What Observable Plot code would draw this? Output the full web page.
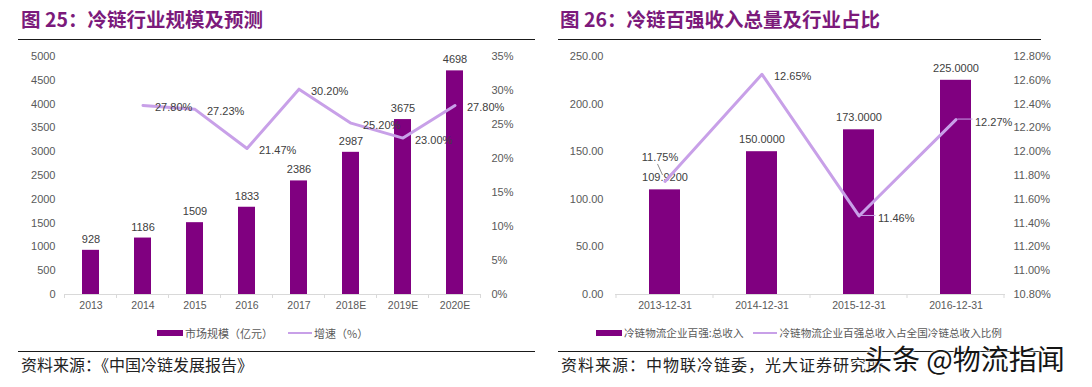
<!DOCTYPE html>
<html>
<head>
<meta charset="utf-8">
<script src="https://cdn.jsdelivr.net/npm/d3@7"></script>
<script src="https://cdn.jsdelivr.net/npm/@observablehq/plot@0.6"></script>
<style>
  html, body { margin: 0; padding: 0; background: #fff; }
  #root { position: relative; width: 1092px; height: 387px; overflow: hidden; background: #fff; }
  .title { position: absolute; top: 9px; font-family: "Noto Sans CJK SC", sans-serif; font-weight: 700; font-size: 19.5px; line-height: 20px; color: #7B1A7B; white-space: nowrap; }
  .hr { position: absolute; height: 0; border-top: 1.5px solid #1a1a1a; }
  .chart { position: absolute; top: 45px; }
  .legend { position: absolute; top: 325px; font-family: "Noto Sans CJK SC", sans-serif; font-size: 11px; line-height: 16px; color: #595959; white-space: nowrap; display: flex; align-items: center; }
  .sw-bar { display: inline-block; width: 26px; height: 6px; background: #800080; margin-right: 2px; }
  .sw-line { display: inline-block; width: 24px; height: 2px; background: #C8A0E8; margin-right: 2px; }
  .source { position: absolute; top: 354px; font-family: "Noto Sans CJK SC", sans-serif; font-size: 16px; line-height: 20px; color: #222; white-space: nowrap; }
  .wm { position: absolute; top: 344px; left: 864px; font-family: "Noto Sans CJK SC", sans-serif; font-size: 28px; line-height: 29px; color: #151515; white-space: nowrap;
        text-shadow: 0 0 2px #fff, 0 0 2px #fff, 0 0 3px #fff; }
</style>
</head>
<body>
<div id="root">
  <div class="title" style="left:21px;">图 25：冷链行业规模及预测</div>
  <div class="hr" style="left:18px;width:517px;top:39px;"></div>
  <div class="title" style="left:560px;">图 26：冷链百强收入总量及行业占比</div>
  <div class="hr" style="left:558px;width:483px;top:39px;"></div>

  <div id="chart1" class="chart" style="left:0px;"></div>
  <div id="chart2" class="chart" style="left:546px;"></div>

  <div class="legend" style="left:157px;">
    <span class="sw-bar"></span><span id="lg1a"></span>
    <span class="sw-line" style="margin-left:15px;"></span><span id="lg1b"></span>
  </div>
  <div class="legend" style="left:596px;font-size:10.6px;">
    <span class="sw-bar"></span><span id="lg2a"></span>
    <span class="sw-line" style="margin-left:10px;"></span><span id="lg2b"></span>
  </div>

  <div class="hr" style="left:18px;width:517px;top:351px;"></div>
  <div class="hr" style="left:558px;width:483px;top:351px;"></div>
  <div class="source" style="left:21px;">资料来源：《中国冷链发展报告》</div>
  <div class="source" style="left:561px;letter-spacing:1px;">资料来源：中物联冷链委，光大证券研究所</div>
  <div class="wm">头条 @物流指闻</div>
</div>

<script>
// ---------------- Data: chart 1 (图 25) ----------------
const years = ["2013", "2014", "2015", "2016", "2017", "2018E", "2019E", "2020E"];
const marketSize = [928, 1186, 1509, 1833, 2386, 2987, 3675, 4698];          // 市场规模（亿元）
const growthYears = ["2014", "2015", "2016", "2017", "2018E", "2019E", "2020E"];
const growthRate = [27.80, 27.23, 21.47, 30.20, 25.20, 23.00, 27.80];        // 增速（%）
const leftTicks1 = [0, 500, 1000, 1500, 2000, 2500, 3000, 3500, 4000, 4500, 5000];
const rightTicks1 = [0, 5, 10, 15, 20, 25, 30, 35];
const legend1 = ["市场规模（亿元）", "增速（%）"];

// ---------------- Data: chart 2 (图 26) ----------------
const dates = ["2013-12-31", "2014-12-31", "2015-12-31", "2016-12-31"];
const top100Revenue = [109.92, 150.00, 173.00, 225.00];                     // 冷链物流企业百强:总收入
const top100Share = [11.75, 12.65, 11.46, 12.27];                            // 占全国冷链总收入比例 (%)
const leftTicks2 = [0, 50, 100, 150, 200, 250];
const rightTicks2 = [10.8, 11.0, 11.2, 11.4, 11.6, 11.8, 12.0, 12.2, 12.4, 12.6, 12.8];
const legend2 = ["冷链物流企业百强:总收入", "冷链物流企业百强总收入占全国冷链总收入比例"];

// ---------------- Styling ----------------
const BAR = "#800080";
const LINE = "#C8A0E8";
const AXIS_TEXT = "#595959";
const LABEL_TEXT = "#404040";
const baseStyle = { fontFamily: '"Liberation Sans", Arial, sans-serif', fontSize: "11px", color: AXIS_TEXT, background: "transparent", overflow: "visible" };

document.getElementById("lg1a").textContent = legend1[0];
document.getElementById("lg1b").textContent = legend1[1];
document.getElementById("lg2a").textContent = legend2[0];
document.getElementById("lg2b").textContent = legend2[1];

// helper: small tick marks at band boundaries on the baseline, using the plot's scales
function bandTicks(plot) {
  const sx = plot.scale("x"), sy = plot.scale("y");
  const y0 = sy.apply(0);
  const gap = (sx.step - sx.bandwidth) / 2;
  const bounds = sx.domain.map(d => sx.apply(d) - gap);
  bounds.push(sx.apply(sx.domain[sx.domain.length - 1]) + sx.bandwidth + gap);
  const g = d3.select(plot).append("g").attr("stroke", "#d9d9d9").attr("stroke-width", 1);
  bounds.forEach(b => g.append("line").attr("x1", b).attr("x2", b).attr("y1", y0).attr("y2", y0 + 4));
}

// ================= Chart 1 =================
const yMax1 = leftTicks1[leftTicks1.length - 1];
const pMax1 = rightTicks1[rightTicks1.length - 1];
const toLeft1 = p => p / pMax1 * yMax1;
const rows1 = years.map((year, i) => ({ year, value: marketSize[i] }));
const growthRows = growthYears.map((year, i) => ({ year, pct: growthRate[i], yv: toLeft1(growthRate[i]) }));

const plot1 = Plot.plot({
  width: 546, height: 275,
  marginLeft: 65, marginRight: 65, marginTop: 11, marginBottom: 26,
  style: baseStyle,
  x: { domain: years, paddingInner: 0.67, paddingOuter: 0.335, label: null },
  y: { domain: [0, yMax1], label: null },
  marks: [
    Plot.axisY({ ticks: leftTicks1, tickSize: 0, tickPadding: 10, tickFormat: d => String(d), label: null }),
    Plot.axisY({ anchor: "right", ticks: rightTicks1.map(toLeft1), tickSize: 0, tickPadding: 10,
                 tickFormat: d => Math.round(d / yMax1 * pMax1) + "%", label: null }),
    Plot.axisX({ tickSize: 0, tickPadding: 7, fontSize: 10.5, label: null }),
    Plot.ruleY([0], { stroke: "#d9d9d9" }),
    Plot.barY(rows1, { x: "year", y: "value", fill: BAR }),
    Plot.text(rows1, { x: "year", y: "value", text: d => String(d.value), dy: -11, fill: LABEL_TEXT }),
    Plot.line(growthRows, { x: "year", y: "yv", stroke: LINE, strokeWidth: 3 }),
    Plot.text(growthRows, { x: "year", y: "yv", text: d => d.pct.toFixed(2) + "%", dx: 12, dy: 2, textAnchor: "start", fill: LABEL_TEXT })
  ]
});
document.getElementById("chart1").appendChild(plot1);
bandTicks(plot1);

// ================= Chart 2 =================
const yMax2 = leftTicks2[leftTicks2.length - 1];
const pMin2 = rightTicks2[0], pMax2 = rightTicks2[rightTicks2.length - 1];
const toLeft2 = p => (p - pMin2) / (pMax2 - pMin2) * yMax2;
const fromLeft2 = v => v / yMax2 * (pMax2 - pMin2) + pMin2;
const rows2 = dates.map((date, i) => ({ date, value: top100Revenue[i] }));
const shareRows = dates.map((date, i) => ({ date, pct: top100Share[i], yv: toLeft2(top100Share[i]) }));

const plot2 = Plot.plot({
  width: 546, height: 275,
  marginLeft: 69, marginRight: 87, marginTop: 11, marginBottom: 26,
  style: baseStyle,
  x: { domain: dates, paddingInner: 0.68, paddingOuter: 0.34, label: null },
  y: { domain: [0, yMax2], label: null },
  marks: [
    Plot.axisY({ ticks: leftTicks2, tickSize: 0, tickPadding: 12, tickFormat: d => d.toFixed(2), label: null }),
    Plot.axisY({ anchor: "right", ticks: rightTicks2.map(toLeft2), tickSize: 0, tickPadding: 8,
                 tickFormat: d => fromLeft2(d).toFixed(2) + "%", label: null }),
    Plot.axisX({ tickSize: 0, tickPadding: 7, fontSize: 10.5, label: null }),
    Plot.ruleY([0], { stroke: "#d9d9d9" }),
    Plot.barY(rows2, { x: "date", y: "value", fill: BAR }),
    Plot.text(rows2, { x: "date", y: "value", text: d => d.value.toFixed(4), dy: -12, fill: LABEL_TEXT }),
    Plot.line(shareRows, { x: "date", y: "yv", stroke: LINE, strokeWidth: 3 }),
    Plot.text(shareRows, { filter: (d, i) => i === 0, x: "date", y: "yv", text: d => d.pct.toFixed(2) + "%", dx: -5, dy: -24, fill: LABEL_TEXT }),
    Plot.text(shareRows, { filter: (d, i) => i === 1, x: "date", y: "yv", text: d => d.pct.toFixed(2) + "%", dx: 12, dy: 2, textAnchor: "start", fill: LABEL_TEXT }),
    Plot.text(shareRows, { filter: (d, i) => i >= 2, x: "date", y: "yv", text: d => d.pct.toFixed(2) + "%", dx: 19, dy: 3, textAnchor: "start", fill: LABEL_TEXT })
  ]
});
document.getElementById("chart2").appendChild(plot2);
bandTicks(plot2);

// leader lines for the share labels, positioned through the plot's scales
(function leaders() {
  const sx = plot2.scale("x"), sy = plot2.scale("y");
  const g = d3.select(plot2).append("g").attr("fill", "none").attr("stroke-width", 1);
  shareRows.forEach((d, i) => {
    const cx = sx.apply(d.date) + sx.bandwidth / 2, cy = sy.apply(d.yv);
    if (i === 0) g.append("line").attr("stroke", "#8c8c8c").attr("x1", cx - 7).attr("y1", cy - 17).attr("x2", cx - 2).attr("y2", cy - 6);
    if (i >= 2) g.append("line").attr("stroke", LINE).attr("x1", cx + 2).attr("y1", cy).attr("x2", cx + 17).attr("y2", cy);
  });
})();
</script>
</body>
</html>
